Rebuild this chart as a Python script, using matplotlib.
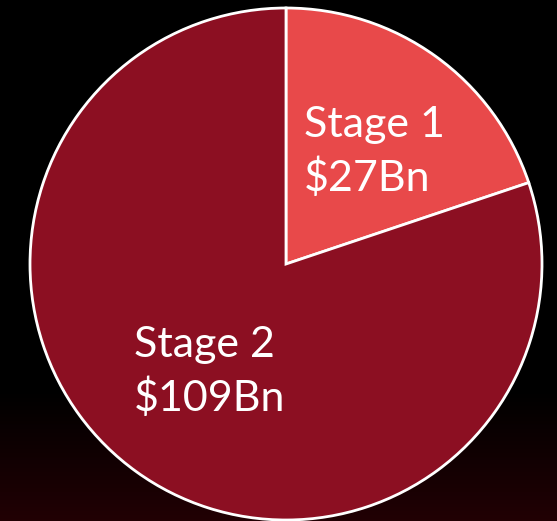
import numpy as np
import matplotlib.pyplot as plt

# Values in $Bn
stages = ['Stage 1', 'Stage 2']
amounts = [27, 109]
colors = ['#E8494A', '#8C0F22']

W, H = 557, 521
fig = plt.figure(figsize=(W / 100, H / 100), dpi=100)
ax = fig.add_axes([0, 0, 1, 1])

cx, cy, r = 286, H - 264, 256
ax.pie(amounts, colors=colors, startangle=90, counterclock=False,
       center=(cx, cy), radius=r, frame=True,
       wedgeprops=dict(edgecolor='white', linewidth=2))

# background: black fading to very dark red at the bottom
g = np.linspace(0, 1, 256)
g = np.clip((g - 0.75) / 0.25, 0, 1)
bg = np.zeros((256, 1, 3))
bg[:, 0, 0] = 0.13 * g
bg[:, 0, 2] = 0.015 * g
ax.imshow(bg, extent=[0, W, 0, H], aspect='auto', zorder=0)

ax.set_xlim(0, W)
ax.set_ylim(0, H)
ax.axis('off')

fs = 31
ax.text(304, H - 137, stages[0], color='white', fontsize=fs, family='Lato', va='baseline')
ax.text(304, H - 191, '$%dBn' % amounts[0], color='white', fontsize=fs, family='Lato', va='baseline')
ax.text(134, H - 357, stages[1], color='white', fontsize=fs, family='Lato', va='baseline')
ax.text(134, H - 411, '$%dBn' % amounts[1], color='white', fontsize=fs, family='Lato', va='baseline')

fig.savefig('out.png', dpi=100, facecolor='black')
